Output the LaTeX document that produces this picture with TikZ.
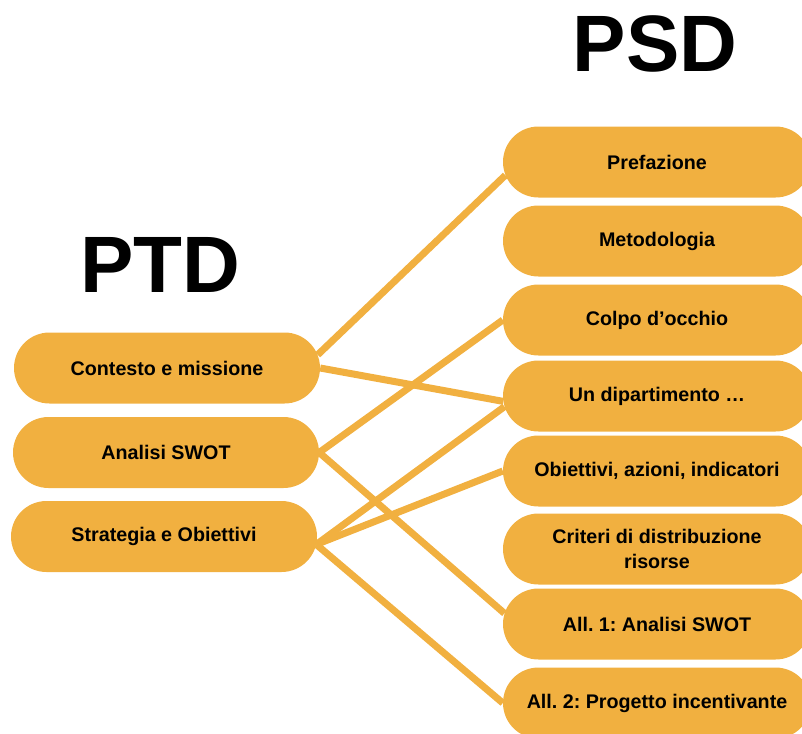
\documentclass[tikz,border=0pt]{standalone}
\usepackage{fontspec}
\setmainfont{Liberation Sans}
\usepackage{tikz}
\usetikzlibrary{shapes.misc,backgrounds}
\definecolor{boxOrange}{RGB}{241,176,64}
\frenchspacing

\begin{document}
\begin{tikzpicture}[x=1pt, y=-1pt,
    every node/.style={font=\bfseries\fontsize{19.7}{25}\selectfont},
    docBox/.style={rounded rectangle, fill=boxOrange, minimum height=71pt,
        minimum width=306pt, inner sep=0pt, align=center},
    titleText/.style={font=\bfseries\fontsize{80}{80}\selectfont, inner sep=0pt},
    link/.style={boxOrange, line width=7pt}]

\useasboundingbox (0,0) rectangle (802,733);
\clip (0,0) rectangle (802,733);

% Titles
\node[titleText] (ptdTitle) at (160,264.5) {PTD};
\node[titleText] (psdTitle) at (655,44) {PSD};

% PTD sections (left)
\node[docBox] (contesto) at (167,368) {Contesto e missione};
\node[docBox] (analisi) at (166,452.5) {Analisi SWOT};
\node[docBox] (strategia) at (164,536.5) {Strategia e Obiettivi};

% PSD sections (right)
\node[docBox, minimum width=308pt] (prefazione) at (657,162) {Prefazione};
\node[docBox, minimum width=308pt] (metodologia) at (657,241) {Metodologia};
\node[docBox, minimum width=308pt] (colpo) at (657,320) {Colpo d’occhio};
\node[docBox, minimum width=308pt] (dipartimento) at (657,396) {Un dipartimento \dots};
\node[docBox, minimum width=308pt] (obiettivi) at (657,471) {Obiettivi, azioni, indicatori};
\node[docBox, minimum width=308pt] (criteri) at (657,549) {Criteri di distribuzione\\ risorse};
\node[docBox, minimum width=308pt] (allUno) at (657,624) {All. 1: Analisi SWOT};
\node[docBox, minimum width=308pt] (allDue) at (657,703) {All. 2: Progetto incentivante};

% Links, behind the boxes
\begin{pgfonlayer}{background}
\draw[link] (contesto.5) -- (prefazione.185);
\draw[link] (contesto.east) -- (dipartimento.182);
\draw[link] (analisi.east) -- (colpo.west);
\draw[link] (analisi.east) -- (allUno.176);
\draw[link] (strategia.-3) -- (dipartimento.184);
\draw[link] (strategia.-3) -- (obiettivi.west);
\draw[link] (strategia.-3) -- (allDue.west);
\end{pgfonlayer}

\end{tikzpicture}
\end{document}
